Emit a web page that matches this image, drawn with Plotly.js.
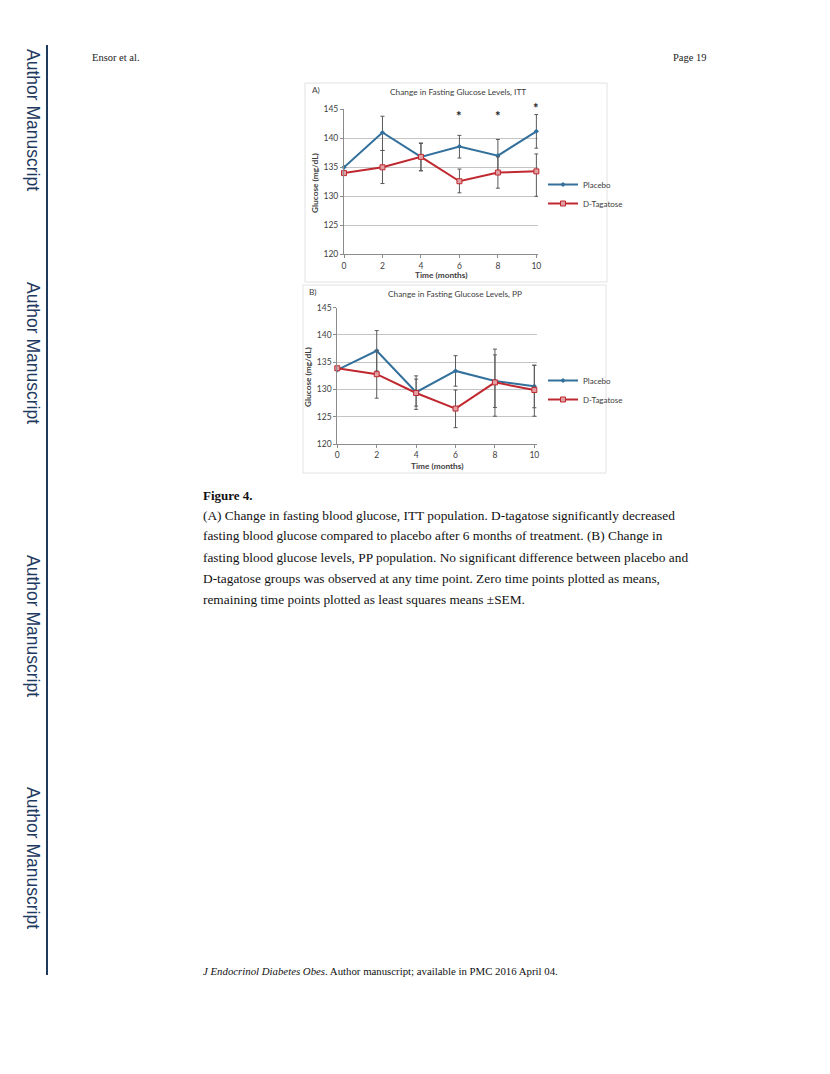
<!DOCTYPE html>
<html>
<head>
<meta charset="utf-8">
<script src="https://cdn.plot.ly/plotly-3.0.1.min.js"></script>
<style>
  html, body { margin: 0; padding: 0; background: #ffffff; }
  #chart { width: 830px; height: 1074px; }
</style>
</head>
<body>
<div id="chart"></div>
<script>
// ---------- data ----------
const months = [0, 2, 4, 6, 8, 10];

// Panel A (ITT)
const placeboA      = [135.0, 141.0, 136.8, 138.6, 137.0, 141.2];
const placeboA_up   = [0, 2.8, 2.3, 1.9, 2.8, 2.9];
const placeboA_down = [0, 3.1, 2.4, 2.0, 2.8, 2.9];
const tagatoseA      = [134.0, 135.0, 136.8, 132.6, 134.1, 134.3];
const tagatoseA_up   = [0, 2.9, 2.4, 2.1, 2.7, 3.0];
const tagatoseA_down = [0, 2.8, 2.4, 2.0, 2.7, 4.3];
const sigMonthsA = [6, 8, 10];
const sigYA      = [144.3, 144.3, 145.8];

// Panel B (PP)
const placeboB      = [133.6, 137.1, 129.5, 133.4, 131.55, 130.6];
const placeboB_up   = [0, 3.7, 3.0, 2.8, 5.85, 3.85];
const placeboB_down = [0, 3.7, 3.15, 2.8, 6.45, 3.95];
const tagatoseB      = [133.9, 132.8, 129.35, 126.5, 131.3, 129.9];
const tagatoseB_up   = [0, 4.4, 2.55, 3.4, 5.05, 4.55];
const tagatoseB_down = [0, 4.4, 2.4, 3.5, 4.6, 4.8];

const seriesNames = ["Placebo", "D-Tagatose"];
const yTicks = [120, 125, 130, 135, 140, 145];
const xTicks = [0, 2, 4, 6, 8, 10];
const yRange = [120, 145];

const titleA = "Change in Fasting Glucose Levels, ITT";
const titleB = "Change in Fasting Glucose Levels, PP";
const yTitle = "Glucose (mg/dL)";
const xTitle = "Time (months)";

const headerLeft = "Ensor et al.";
const headerRight = "Page 19";
const sideText = "Author Manuscript";
const captionTitle = "Figure 4.";
const captionLines = [
  "(A) Change in fasting blood glucose, ITT population. D-tagatose significantly decreased",
  "fasting blood glucose compared to placebo after 6 months of treatment. (B) Change in",
  "fasting blood glucose levels, PP population. No significant difference between placebo and",
  "D-tagatose groups was observed at any time point. Zero time points plotted as means,",
  "remaining time points plotted as least squares means \u00b1SEM."
];
const footerItalic = "J Endocrinol Diabetes Obes";
const footerRest = ". Author manuscript; available in PMC 2016 April 04.";

// ---------- styling helpers ----------
const W = 830, H = 1074;
const px = v => v / W;
const py = v => 1 - v / H;

const blue = "#33709c";
const red = "#c0282f";
const chartFont = "Lato, 'Open Sans', sans-serif";
const serif = "'Liberation Serif', 'Times New Roman', serif";

function errBar(up, down) {
  return { type: "data", symmetric: false, array: up, arrayminus: down,
           color: "#5a5a5a", thickness: 1, width: 2 };
}

function placeboTrace(y, up, down, xa, ya, leg) {
  return { x: months, y: y, xaxis: xa, yaxis: ya, name: seriesNames[0],
    mode: "lines+markers", legend: leg, cliponaxis: false,
    line: { color: blue, width: 2 },
    marker: { symbol: "diamond", size: 4, color: blue },
    error_y: errBar(up, down) };
}
function tagatoseTrace(y, up, down, xa, ya, leg) {
  return { x: months, y: y, xaxis: xa, yaxis: ya, name: seriesNames[1],
    mode: "lines+markers", legend: leg, cliponaxis: false,
    line: { color: red, width: 2 },
    marker: { symbol: "square", size: 5, color: "#e0a0a3", line: { color: red, width: 1 } },
    error_y: errBar(up, down) };
}

const traces = [
  placeboTrace(placeboA, placeboA_up, placeboA_down, "x", "y", "legend"),
  tagatoseTrace(tagatoseA, tagatoseA_up, tagatoseA_down, "x", "y", "legend"),
  placeboTrace(placeboB, placeboB_up, placeboB_down, "x2", "y2", "legend2"),
  tagatoseTrace(tagatoseB, tagatoseB_up, tagatoseB_down, "x2", "y2", "legend2")
];

function xAxis(dom, anchor, rng) {
  return { domain: dom, anchor: anchor, range: rng, tickvals: xTicks,
    showgrid: false, zeroline: false, showline: true, linecolor: "#8c8c8c", linewidth: 1,
    ticks: "outside", ticklen: 3, tickcolor: "#8c8c8c",
    tickfont: { family: chartFont, size: 8.5, color: "#404040" }, fixedrange: true };
}
function yAxis(dom, anchor) {
  return { domain: dom, anchor: anchor, range: yRange, tickvals: yTicks,
    showgrid: true, gridcolor: "#c4c4c4", gridwidth: 1, zeroline: false,
    showline: true, linecolor: "#8c8c8c", linewidth: 1,
    ticks: "outside", ticklen: 3, tickcolor: "#8c8c8c",
    tickfont: { family: chartFont, size: 8.5, color: "#404040" }, fixedrange: true };
}

const annotations = [];
function txt(text, x, y, opts) {
  annotations.push(Object.assign({ text: text, x: x, y: y, xref: "paper", yref: "paper",
    showarrow: false, xanchor: "left", yanchor: "middle" }, opts || {}));
}

// page header
txt(headerLeft, px(90), py(57), { font: { family: serif, size: 10.5, color: "#222" } });
txt(headerRight, px(709), py(57), { xanchor: "right", font: { family: serif, size: 10.5, color: "#222" } });

// side text
[120, 353, 626, 858].forEach(c => {
  txt(sideText, px(33), py(c), { xanchor: "center", textangle: 90,
      font: { family: "'Liberation Sans', Arial, sans-serif", size: 17.5, color: "#1f3a5f" } });
});

// chart labels
const lab = { family: chartFont, size: 8.3, color: "#404040" };
txt("A)", px(310), py(90), { font: lab });
txt("B)", px(307), py(292), { font: lab });
txt(titleA, px(458), py(92), { xanchor: "center", font: lab });
txt(titleB, px(455), py(294), { xanchor: "center", font: lab });
txt("<b>" + xTitle + "</b>", px(441), py(275), { xanchor: "center", font: lab });
txt("<b>" + xTitle + "</b>", px(437), py(466), { xanchor: "center", font: lab });
txt("<b>" + yTitle + "</b>", px(315), py(183), { xanchor: "center", textangle: -90, font: lab });
txt("<b>" + yTitle + "</b>", px(308), py(377), { xanchor: "center", textangle: -90, font: lab });

// significance asterisks (positioned in axis-domain units derived from data values)
sigMonthsA.forEach((m, i) => {
  annotations.push({ text: "<b>*</b>", x: m, y: (sigYA[i] - yRange[0]) / (yRange[1] - yRange[0]),
    xref: "x", yref: "y domain",
    showarrow: false, xanchor: "center", yanchor: "middle", yshift: -3,
    font: { family: chartFont, size: 13, color: "#222" } });
});

// caption
txt("<b>" + captionTitle + "</b>", px(201), py(496), { font: { family: serif, size: 13, color: "#111" } });
captionLines.forEach((l, i) => {
  txt(l, px(201), py(515 + i * 21), { font: { family: serif, size: 13.35, color: "#111" } });
});

// footer
txt("<i>" + footerItalic + "</i>" + footerRest, px(201), py(971),
    { font: { family: serif, size: 10.8, color: "#111" } });

const shapes = [
  { type: "line", xref: "paper", yref: "paper", x0: px(47), x1: px(47), y0: py(45), y1: py(975),
    line: { color: "#1f3a5f", width: 2 } },
  { type: "rect", xref: "paper", yref: "paper", x0: px(305), x1: px(607), y0: py(282), y1: py(83),
    line: { color: "#e2e2e2", width: 1 } },
  { type: "rect", xref: "paper", yref: "paper", x0: px(303), x1: px(606), y0: py(473), y1: py(285),
    line: { color: "#e2e2e2", width: 1 } }
];

const legendStyle = (yc) => ({ x: px(543), y: py(yc), xanchor: "left", yanchor: "middle",
  bgcolor: "rgba(0,0,0,0)", borderwidth: 0, itemwidth: 30, itemclick: false,
  font: { family: chartFont, size: 8, color: "#404040" } });

const layout = {
  width: W, height: H,
  margin: { l: 0, r: 0, t: 0, b: 0 },
  paper_bgcolor: "#ffffff", plot_bgcolor: "rgba(0,0,0,0)",
  showlegend: true,
  xaxis: xAxis([px(344), px(538.3)], "y", [0, 10.1]),
  yaxis: yAxis([py(254.3), py(109.3)], "x"),
  xaxis2: xAxis([px(337.3), px(537.3)], "y2", [0, 10.15]),
  yaxis2: yAxis([py(444), py(307.7)], "x2"),
  legend: legendStyle(194),
  legend2: legendStyle(390),
  annotations: annotations,
  shapes: shapes
};

Plotly.newPlot("chart", traces, layout, { displayModeBar: false, staticPlot: true });
</script>
</body>
</html>
